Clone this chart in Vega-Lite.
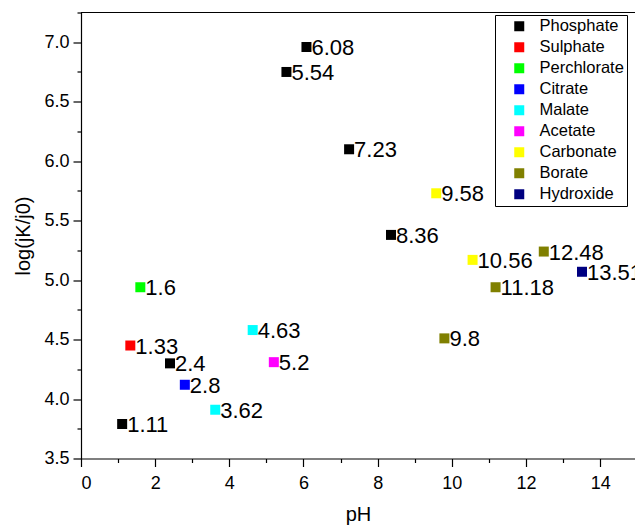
{
  "$schema": "https://vega.github.io/schema/vega-lite/v6.json",
  "autosize": "none",
  "padding": {"left": 81, "top": 12.5, "right": 0, "bottom": 68.5},
  "width": 554,
  "height": 446,
  "background": "white",
  "config": {
    "font": "Liberation Sans",
    "view": {"stroke": null},
    "axis": {
      "grid": false,
      "domainColor": "black",
      "tickColor": "black",
      "labelColor": "black",
      "titleColor": "black",
      "labelFont": "Liberation Sans",
      "titleFont": "Liberation Sans",
      "labelFontSize": 18,
      "titleFontSize": 20,
      "titleFontWeight": "normal",
      "tickSize": 8,
      "domainWidth": 1.2,
      "tickWidth": 1.2
    },
    "legend": {
      "labelFont": "Liberation Sans",
      "labelFontSize": 16.5,
      "labelColor": "black"
    }
  },
  "data": {
    "values": [
      {"anion": "Phosphate", "pH": 1.11, "logk": 3.79, "label": "1.11"},
      {"anion": "Phosphate", "pH": 2.4, "logk": 4.3, "label": "2.4"},
      {"anion": "Phosphate", "pH": 5.54, "logk": 6.75, "label": "5.54"},
      {"anion": "Phosphate", "pH": 6.08, "logk": 6.96, "label": "6.08"},
      {"anion": "Phosphate", "pH": 7.23, "logk": 6.1, "label": "7.23"},
      {"anion": "Phosphate", "pH": 8.36, "logk": 5.38, "label": "8.36"},
      {"anion": "Sulphate", "pH": 1.33, "logk": 4.45, "label": "1.33"},
      {"anion": "Perchlorate", "pH": 1.6, "logk": 4.94, "label": "1.6"},
      {"anion": "Citrate", "pH": 2.8, "logk": 4.12, "label": "2.8"},
      {"anion": "Malate", "pH": 3.62, "logk": 3.91, "label": "3.62"},
      {"anion": "Malate", "pH": 4.63, "logk": 4.58, "label": "4.63"},
      {"anion": "Acetate", "pH": 5.2, "logk": 4.31, "label": "5.2"},
      {"anion": "Carbonate", "pH": 9.58, "logk": 5.73, "label": "9.58"},
      {"anion": "Carbonate", "pH": 10.56, "logk": 5.17, "label": "10.56"},
      {"anion": "Borate", "pH": 9.8, "logk": 4.51, "label": "9.8"},
      {"anion": "Borate", "pH": 11.18, "logk": 4.94, "label": "11.18"},
      {"anion": "Borate", "pH": 12.48, "logk": 5.24, "label": "12.48"},
      {"anion": "Hydroxide", "pH": 13.51, "logk": 5.07, "label": "13.51"}
    ]
  },
  "layer": [
    {
      "mark": {"type": "rule", "color": "black", "strokeWidth": 1.2},
      "encoding": {
        "y": {"datum": 7.25, "type": "quantitative", "axis": null}
      }
    },
    {
      "mark": {"type": "point", "shape": "square", "filled": true, "opacity": 1, "size": 100},
      "encoding": {
        "x": {"field": "pH", "type": "quantitative", "scale": {"domain": [0, 14.94], "nice": false, "zero": false},
              "axis": {"orient": "bottom", "values": [0, 2, 4, 6, 8, 10, 12, 14], "title": "pH", "titlePadding": 12, "labelPadding": 8}},
        "y": {"field": "logk", "type": "quantitative", "scale": {"domain": [3.5, 7.25], "nice": false, "zero": false},
              "axis": {"orient": "left", "values": [3.5, 4.0, 4.5, 5.0, 5.5, 6.0, 6.5, 7.0], "format": ".1f", "title": "log(jK/j0)", "titlePadding": 10, "labelPadding": 4}},
        "color": {
          "field": "anion", "type": "nominal",
          "scale": {
            "domain": ["Phosphate", "Sulphate", "Perchlorate", "Citrate", "Malate", "Acetate", "Carbonate", "Borate", "Hydroxide"],
            "range": ["#000000", "#ff0000", "#00ff00", "#0000ff", "#00ffff", "#ff00ff", "#ffff00", "#808000", "#000080"]
          },
          "legend": {
            "title": null,
            "orient": "none",
            "legendX": 414,
            "legendY": 2.5,
            "strokeColor": "black",
            "fillColor": "white",
            "padding": 3,
            "symbolType": "square",
            "symbolSize": 100,
            "symbolOffset": 13,
            "symbolStrokeWidth": 0,
            "labelOffset": 12,
            "rowPadding": 4
          }
        }
      }
    },
    {
      "mark": {"type": "text", "align": "left", "baseline": "middle", "dx": 5, "dy": 1, "fontSize": 22, "font": "Liberation Sans", "color": "black"},
      "encoding": {
        "x": {"field": "pH", "type": "quantitative",
              "axis": {"orient": "bottom", "values": [1, 3, 5, 7, 9, 11, 13], "labels": false, "title": null, "domain": false, "tickSize": 4}},
        "y": {"field": "logk", "type": "quantitative",
              "axis": {"orient": "left", "values": [3.75, 4.25, 4.75, 5.25, 5.75, 6.25, 6.75, 7.25], "labels": false, "title": null, "domain": false, "tickSize": 4}},
        "text": {"field": "label"}
      }
    }
  ],
  "resolve": {"axis": {"x": "independent", "y": "independent"}}
}
